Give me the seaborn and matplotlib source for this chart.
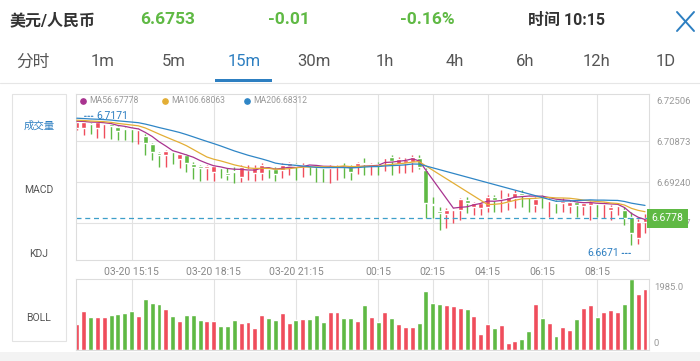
import numpy as np
import pandas as pd
import seaborn as sns
import matplotlib.pyplot as plt
import matplotlib.transforms as mtransforms
from matplotlib.patches import Rectangle
from matplotlib.lines import Line2D

sns.set_style('white')
plt.rcParams['font.family'] = ['Roboto', 'Noto Sans CJK SC', 'DejaVu Sans']

# USD/CNY 15m candles, 03-20 13:15 .. 03-21 10:00
opens = [6.7141, 6.7141, 6.7157, 6.7141, 6.7155, 6.7157, 6.7143, 6.7141, 6.7141, 6.7133,
         6.7107, 6.7077, 6.7040, 6.7034, 6.7048, 6.7018, 6.7034, 6.6996, 6.6987, 6.6979,
         6.6966, 6.6984, 6.6960, 6.6970, 6.6945, 6.6972, 6.6961, 6.6959, 6.6980, 6.6976,
         6.6972, 6.6988, 6.6995, 6.6988, 6.6992, 6.6988, 6.6986, 6.6982, 6.6984, 6.6990,
         6.6983, 6.6988, 6.7000, 6.6992, 6.6995, 6.7020, 6.7023, 6.6996, 6.6999, 6.7005,
         6.7022, 6.6972, 6.6834, 6.6808, 6.6796, 6.6812, 6.6812, 6.6852, 6.6825, 6.6819,
         6.6823, 6.6865, 6.6852, 6.6845, 6.6859, 6.6881, 6.6868, 6.6832, 6.6868, 6.6848,
         6.6845, 6.6839, 6.6829, 6.6845, 6.6828, 6.6832, 6.6839, 6.6836, 6.6812, 6.6828,
         6.6812, 6.6785, 6.6701, 6.6764]
highs = [6.7169, 6.7171, 6.7161, 6.7167, 6.7161, 6.7161, 6.7147, 6.7143, 6.7143, 6.7139,
         6.7115, 6.7081, 6.7046, 6.7052, 6.7050, 6.7042, 6.7038, 6.7006, 6.6992, 6.6992,
         6.6992, 6.6986, 6.6980, 6.6985, 6.6992, 6.6992, 6.6992, 6.6999, 6.6985, 6.6985,
         6.6999, 6.7005, 6.6999, 6.6999, 6.6994, 6.6990, 6.6988, 6.6992, 6.6992, 6.6999,
         6.6992, 6.7005, 6.7019, 6.7002, 6.7005, 6.7025, 6.7032, 6.7023, 6.7019, 6.7032,
         6.7032, 6.6980, 6.6864, 6.6825, 6.6819, 6.6820, 6.6859, 6.6865, 6.6845, 6.6845,
         6.6872, 6.6872, 6.6892, 6.6879, 6.6892, 6.6892, 6.6872, 6.6865, 6.6872, 6.6859,
         6.6852, 6.6859, 6.6852, 6.6849, 6.6845, 6.6849, 6.6840, 6.6845, 6.6832, 6.6839,
         6.6825, 6.6805, 6.6775, 6.6797]
lows = [6.7133, 6.7113, 6.7117, 6.7101, 6.7102, 6.7097, 6.7093, 6.7093, 6.7085, 6.7077,
        6.7032, 6.7012, 6.6986, 6.6986, 6.6996, 6.6980, 6.6966, 6.6936, 6.6928, 6.6932,
        6.6928, 6.6940, 6.6932, 6.6920, 6.6925, 6.6932, 6.6929, 6.6932, 6.6939, 6.6929,
        6.6939, 6.6952, 6.6932, 6.6945, 6.6952, 6.6925, 6.6925, 6.6919, 6.6932, 6.6939,
        6.6932, 6.6956, 6.6952, 6.6952, 6.6952, 6.6969, 6.6952, 6.6959, 6.6961, 6.6966,
        6.6976, 6.6780, 6.6780, 6.6731, 6.6738, 6.6760, 6.6772, 6.6798, 6.6792, 6.6792,
        6.6805, 6.6805, 6.6805, 6.6812, 6.6819, 6.6825, 6.6805, 6.6805, 6.6819, 6.6785,
        6.6798, 6.6805, 6.6798, 6.6785, 6.6792, 6.6772, 6.6785, 6.6778, 6.6772, 6.6792,
        6.6752, 6.6671, 6.6675, 6.6719]
closes = [6.7165, 6.7165, 6.7155, 6.7165, 6.7159, 6.7149, 6.7127, 6.7137, 6.7135, 6.7137,
          6.7079, 6.7046, 6.7032, 6.7048, 6.7044, 6.7038, 6.7002, 6.6986, 6.6981, 6.6988,
          6.6989, 6.6980, 6.6954, 6.6966, 6.6985, 6.6976, 6.6979, 6.6992, 6.6976, 6.6956,
          6.6992, 6.6999, 6.6988, 6.6994, 6.6988, 6.6984, 6.6982, 6.6986, 6.6988, 6.6984,
          6.6966, 6.7002, 6.6998, 6.6996, 6.6992, 6.7024, 6.7009, 6.7015, 6.7012, 6.7025,
          6.6984, 6.6840, 6.6830, 6.6799, 6.6812, 6.6816, 6.6855, 6.6841, 6.6839, 6.6839,
          6.6863, 6.6852, 6.6856, 6.6865, 6.6881, 6.6872, 6.6864, 6.6855, 6.6864, 6.6852,
          6.6841, 6.6849, 6.6845, 6.6832, 6.6839, 6.6843, 6.6835, 6.6840, 6.6823, 6.6832,
          6.6778, 6.6718, 6.6762, 6.6778]
volumes = [718, 1090, 913, 932, 913, 979, 1016, 1025, 1081, 951,
           1417, 1314, 1286, 1156, 941, 820, 979, 988, 829, 820,
           811, 680, 671, 829, 746, 774, 624, 969, 904, 839,
           1034, 746, 839, 857, 857, 979, 774, 1053, 1072, 904,
           904, 811, 1249, 913, 783, 1072, 885, 727, 652, 652,
           764, 1650, 1305, 1286, 1258, 1230, 1165, 1137, 960, 447,
           727, 624, 699, 196, 261, 317, 531, 1286, 895, 746,
           391, 652, 550, 857, 1184, 1249, 923, 1053, 1109, 1072,
           1277, 1985, 1556, 1715]
# closes before the window, so the averages start at the left edge
prev_closes = [6.7192, 6.7190, 6.7186, 6.7189, 6.7185, 6.7188, 6.7187, 6.7184, 6.7189, 6.7190,
               6.7178, 6.7175, 6.7177, 6.7174, 6.7176, 6.7170, 6.7168, 6.7167, 6.7170]
session_start = 51  # averages restart here

time_labels = ['03-20 15:15', '03-20 18:15', '03-20 21:15', '00:15', '02:15', '04:15', '06:15', '08:15']
time_pos = [8, 20, 32, 44, 52, 60, 68, 76]
price_ticks = [6.72506, 6.70873, 6.69240, 6.67607]
vol_max = 1985.0
ma_windows = [5, 10, 20]
ma_labels = ['MA56.67778', 'MA106.68063', 'MA206.68312']
ma_colors = ['#a8338f', '#e3ae35', '#2f86c6']

header = ['美元/人民币', '6.6753', '-0.01', '-0.16%', '时间 10:15']
tabs = ['分时', '1m', '5m', '15m', '30m', '1h', '4h', '6h', '12h', '1D']
side_labels = ['成交量', 'MACD', 'KDJ', 'BOLL']

RED = '#ef4d5c'
GREEN = '#5fb944'
BLUE = '#2d7fc1'
GREY = '#999999'

df = pd.DataFrame({'o': opens, 'h': highs, 'l': lows, 'c': closes, 'v': volumes})
df['x'] = np.arange(len(df))
df['col'] = np.where(df.c >= df.o, RED, GREEN)

first = pd.Series(prev_closes + closes[:session_start])
second = pd.Series(closes[session_start:])
for n in ma_windows:
    a = first.rolling(n).mean().iloc[len(prev_closes):].to_numpy()
    b = second.rolling(n).mean().to_numpy()
    df[f'ma{n}'] = np.concatenate([a, b])

W, H = 700, 361
fig = plt.figure(figsize=(W / 100, H / 100), dpi=100)


def fx(x):
    return x / W


def fy(y):
    return 1 - y / H


# header
fig.text(fx(10), fy(20), header[0], fontsize=11.5, fontweight='bold', color='#333333', va='center')
for s, x in zip(header[1:4], [168, 289, 427]):
    fig.text(fx(x), fy(20), s, fontsize=12.5, fontweight='bold', color=GREEN, ha='center', va='center')
fig.text(fx(567), fy(20), header[4], fontsize=11.5, fontweight='bold', color='#333333', ha='center', va='center')
fig.add_artist(Line2D([fx(677), fx(694)], [fy(12), fy(31)], color=BLUE, lw=1.4))
fig.add_artist(Line2D([fx(694), fx(677)], [fy(12), fy(31)], color=BLUE, lw=1.4))

# tabs
for s, x in zip(tabs, [33, 103, 174, 244, 314, 385, 455, 525, 596, 666]):
    fig.text(fx(x), fy(62), s, fontsize=12, color=BLUE if s == '15m' else '#555555',
             ha='center', va='center')
fig.add_artist(Line2D([0, 1], [fy(83), fy(83)], color='#e6e6e6', lw=0.8))
fig.add_artist(Rectangle((fx(215), fy(82)), fx(57), 3 / H, color=BLUE, lw=0))

# side panel
fig.add_artist(Rectangle((fx(12), fy(341)), fx(54), (341 - 94) / H, fill=False, ec='#e3e3e3', lw=0.8))
for s, y in zip(side_labels, [126, 190, 254, 318]):
    fig.text(fx(39), fy(y), s, fontsize=7.5, color=BLUE if s == '成交量' else '#555555',
             ha='center', va='center')

# price panel
ax = fig.add_axes([fx(76), fy(260), fx(573), (260 - 94) / H])
ax.vlines(df.x, df.l, df.h, colors=df.col, lw=1.0, zorder=2)
ax.bar(df.x, np.maximum((df.c - df.o).abs(), 0.00028), bottom=np.minimum(df.o, df.c),
       width=0.72, color=df.col, zorder=2)
for n, c in zip(ma_windows, ma_colors):
    sns.lineplot(data=df.dropna(subset=[f'ma{n}']), x='x', y=f'ma{n}', ax=ax, color=c,
                 lw=0.9, estimator=None, legend=False, zorder=3)
ax.set_xlabel('')
ax.set_ylabel('')
ax.set_xlim(-0.12, 83.58)
ax.set_ylim(6.66111, 6.72771)
for p in price_ticks[1:]:
    ax.axhline(p, color='#e2e2e2', lw=0.8, zorder=1)
for p in time_pos:
    ax.axvline(p, color='#e2e2e2', lw=0.8, zorder=1)
ax.yaxis.tick_right()
ax.set_yticks(price_ticks, [f'{p:.5f}' for p in price_ticks])
ax.set_xticks(time_pos, time_labels)
ax.tick_params(axis='y', length=0, pad=5, labelsize=6.8, labelcolor=GREY)
ax.tick_params(axis='x', length=0, pad=5, labelsize=7.5, labelcolor='#888888')
for sp in ax.spines.values():
    sp.set_color('#dddddd')
    sp.set_linewidth(0.8)

last = closes[-1]
ax.axhline(last, color='#3d9fc9', lw=0.9, ls=(0, (4, 3)), zorder=2)
ax.text(1.004, last, f'{last:.4f}', transform=ax.get_yaxis_transform(), fontsize=7.5, color='white',
        ha='left', va='center', zorder=10, clip_on=False,
        bbox=dict(boxstyle='square,pad=0.45', fc=GREEN, ec='none'))

# max / min markers
i_hi = int(np.argmax(highs))
i_lo = int(np.argmin(lows))
up = ax.transData + mtransforms.ScaledTranslation(0, 3 / 72, fig.dpi_scale_trans)
down = ax.transData + mtransforms.ScaledTranslation(0, -6 / 72, fig.dpi_scale_trans)
ax.annotate(f'{highs[i_hi]:.4f}', xy=(i_hi, highs[i_hi]), xycoords=up, xytext=(9, 0),
            textcoords='offset points', ha='left', va='center', fontsize=7.5, color=BLUE,
            arrowprops=dict(arrowstyle='-', ls=(0, (1.5, 1.5)), color=BLUE, lw=0.8,
                            shrinkA=0, shrinkB=0, relpos=(0, 0.5)))
ax.annotate(f'{lows[i_lo]:.4f}', xy=(i_lo, lows[i_lo]), xycoords=down, xytext=(-9, 0),
            textcoords='offset points', ha='right', va='center', fontsize=7.5, color=BLUE,
            arrowprops=dict(arrowstyle='-', ls=(0, (1.5, 1.5)), color=BLUE, lw=0.8,
                            shrinkA=0, shrinkB=0, relpos=(1, 0.5)))

# MA legend
for s, c, x in zip(ma_labels, ma_colors, [83, 165, 247]):
    fig.add_artist(Line2D([fx(x)], [fy(100.5)], marker='o', ms=3.8, color=c, lw=0))
    fig.text(fx(x + 6), fy(100.5), s, fontsize=6.2, color=GREY, va='center')

# volume panel
ax2 = fig.add_axes([fx(76), fy(350), fx(573), 71 / H])
ax2.bar(df.x, df.v, width=0.72, color=df.col, zorder=2)
for p in time_pos:
    ax2.axvline(p, color='#e2e2e2', lw=0.8, zorder=1)
ax2.set_xlim(-0.12, 83.58)
ax2.set_ylim(0, vol_max)
ax2.set_xticks([])
ax2.set_yticks([])
for sp in ax2.spines.values():
    sp.set_color('#dddddd')
    sp.set_linewidth(0.8)
fig.text(fx(654), fy(287), f'{vol_max:.1f}', fontsize=6.8, color=GREY, va='center')
fig.text(fx(654), fy(343), '0', fontsize=6.8, color=GREY, va='center')

fig.add_artist(Rectangle((0, 0), 1, 9 / H, color='#f3f3f3', lw=0))

plt.savefig('out.png', dpi=100)
